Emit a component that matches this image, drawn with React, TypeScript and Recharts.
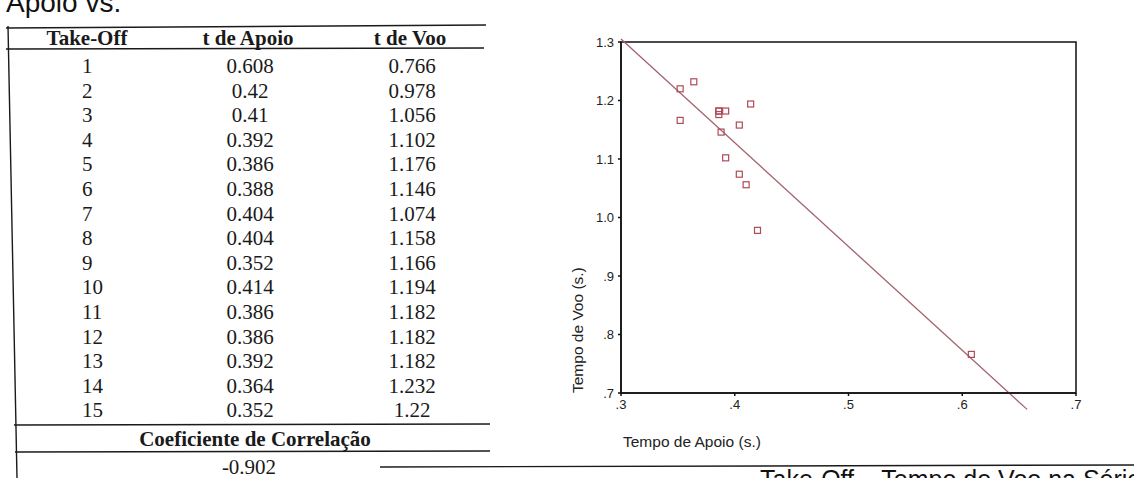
import React from 'react';
import { ScatterChart, Scatter, XAxis, YAxis, ReferenceLine, ReferenceArea } from 'recharts';

// table / chart data
const takeOff = [1, 2, 3, 4, 5, 6, 7, 8, 9, 10, 11, 12, 13, 14, 15];
const tApoio = [0.608, 0.42, 0.41, 0.392, 0.386, 0.388, 0.404, 0.404, 0.352, 0.414, 0.386, 0.386, 0.392, 0.364, 0.352];
const tVoo = [0.766, 0.978, 1.056, 1.102, 1.176, 1.146, 1.074, 1.158, 1.166, 1.194, 1.182, 1.182, 1.182, 1.232, 1.22];
const headers = ['Take-Off', 't de Apoio', 't de Voo'];
const coefLabel = 'Coeficiente de Correlação';
const coefValue = '-0.902';

const xTicks = [0.3, 0.4, 0.5, 0.6, 0.7];
const yTicks = [0.7, 0.8, 0.9, 1.0, 1.1, 1.2, 1.3];
// fitted line, endpoints
const fitLine = [{ x: 0.3, y: 1.305 }, { x: 0.657, y: 0.672 }];

const points = tApoio.map((x, i) => ({ x, y: tVoo[i] }));

const serif = '"Liberation Serif", "Times New Roman", serif';
const sans = '"Liberation Sans", Arial, sans-serif';
const ink = '#1a1a1a';
const markColor = '#b04a58';
const lineColor = '#a2626c';

const fmtTick = (v: number) => (v >= 1 ? v.toFixed(1) : v.toFixed(1).slice(1));

const ROW0 = 73;
const ROW_H = 24.6;

function Square(props: any) {
    const { cx, cy } = props;
    if (cx == null || cy == null) return null;
    return <rect x={cx - 3} y={cy - 3} width={6} height={6} fill="none" stroke={markColor} strokeWidth={1.2} />;
}

function Page() {
    return (
        <svg width={1134} height={478} style={{ position: 'absolute', left: 0, top: 0 }}>
            <text x={6} y={12} fontSize={28} fontFamily={sans} fill="#111">Apoio vs.</text>

            {/* table frame */}
            <g stroke={ink} strokeWidth={1.4}>
                <line x1={6} y1={28} x2={486} y2={25} />
                <line x1={6} y1={49} x2={484} y2={48} />
                <line x1={14} y1={425} x2={490} y2={424} />
                <line x1={15} y1={452} x2={490} y2={451} />
                <line x1={380} y1={467} x2={1134} y2={465} />
                <line x1={8} y1={26} x2={17} y2={478} />
            </g>

            <g fontFamily={serif} fontWeight="bold" fontSize={21} fill={ink} textAnchor="middle">
                <text x={87} y={45}>{headers[0]}</text>
                <text x={248} y={45}>{headers[1]}</text>
                <text x={410} y={45}>{headers[2]}</text>
            </g>

            <g fontFamily={serif} fontSize={21} fill={ink}>
                {takeOff.map((t, i) => (
                    <g key={t}>
                        <text x={82} y={ROW0 + i * ROW_H}>{t}</text>
                        <text x={250} y={ROW0 + i * ROW_H} textAnchor="middle">{String(tApoio[i])}</text>
                        <text x={412} y={ROW0 + i * ROW_H} textAnchor="middle">{String(tVoo[i])}</text>
                    </g>
                ))}
            </g>

            <text x={255} y={446} fontFamily={serif} fontWeight="bold" fontSize={21} fill={ink} textAnchor="middle">{coefLabel}</text>
            <text x={249} y={474} fontFamily={serif} fontSize={21} fill={ink} textAnchor="middle">{coefValue}</text>

            {/* axis titles */}
            <text transform="translate(583,393) rotate(-90)" fontFamily={sans} fontSize={15.5} fill="#222">Tempo de Voo (s.)</text>
            <text x={623} y={447} fontFamily={sans} fontSize={15.5} fill="#222">Tempo de Apoio (s.)</text>

            <text x={760} y={488} fontFamily={sans} fontSize={25} fill="#111">Take-Off – Tempo de Voo na Série</text>
        </svg>
    );
}

export default function App() {
    return (
        <div style={{ position: 'absolute', left: 0, top: 0, width: 1134, height: 478, background: '#fff', overflow: 'hidden' }}>
            <Page />
            <div style={{ position: 'absolute', left: 500, top: 0 }}>
                <ScatterChart width={634} height={478} margin={{ top: 42, right: 58, bottom: 55, left: 0 }}>
                    <XAxis
                        type="number"
                        dataKey="x"
                        domain={[0.3, 0.7]}
                        ticks={xTicks}
                        tickFormatter={fmtTick}
                        allowDataOverflow
                        height={30}
                        axisLine={{ stroke: '#111', strokeWidth: 1.5 }}
                        tickLine={{ stroke: '#111', strokeWidth: 1.5 }}
                        tickSize={3}
                        tickMargin={4}
                        tick={{ fill: '#222', fontSize: 13, fontFamily: sans }}
                    />
                    <YAxis
                        type="number"
                        dataKey="y"
                        domain={[0.7, 1.3]}
                        ticks={yTicks}
                        tickFormatter={fmtTick}
                        allowDataOverflow
                        width={121}
                        axisLine={{ stroke: '#111', strokeWidth: 1.5 }}
                        tickLine={{ stroke: '#111', strokeWidth: 1.5 }}
                        tickSize={3}
                        tickMargin={4}
                        tick={{ fill: '#222', fontSize: 13, fontFamily: sans }}
                    />
                    <ReferenceArea x1={0.3} x2={0.7} y1={0.7} y2={1.3} fill="none" fillOpacity={0} stroke="#111" strokeWidth={1.5} ifOverflow="visible" />
                    <ReferenceLine segment={fitLine} stroke={lineColor} strokeWidth={1.3} ifOverflow="visible" />
                    <Scatter data={points} shape={Square} isAnimationActive={false} />
                </ScatterChart>
            </div>
        </div>
    );
}
